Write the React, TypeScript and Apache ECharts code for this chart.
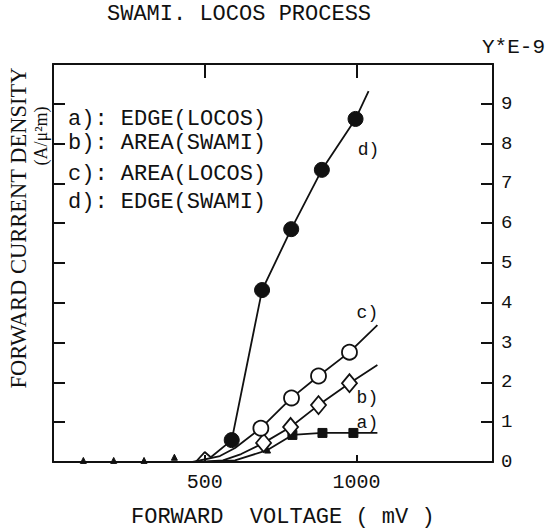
import React, { useEffect, useRef } from "react";
import * as echarts from "echarts";

const TITLE = "SWAMI. LOCOS PROCESS";
const X_NAME = "FORWARD  VOLTAGE ( mV )";
const Y_NAME = "FORWARD CURRENT DENSITY";
const Y_UNIT = "(A/\u03bc\u00b2m)";
const SCALE_NOTE = "Y*E-9";
const LEGEND_LINES = ["a): EDGE(LOCOS)", "b): AREA(SWAMI)", "c): AREA(LOCOS)", "d): EDGE(SWAMI)"];
const X_TICK_LABELS = [500, 1000];
const Y_TICK_LABELS = [0, 1, 2, 3, 4, 5, 6, 7, 8, 9];

// a) EDGE(LOCOS)
const aCurveV = [0, 500, 600, 707, 789, 888, 990, 1069];
const aCurveJ = [0, 0, 0.04, 0.3, 0.68, 0.73, 0.73, 0.73];
const aPointV = [789, 888, 990];
const aPointJ = [0.68, 0.73, 0.73];
// b) AREA(SWAMI)
const bCurveV = [0, 480, 560, 620, 694, 783, 875, 977, 1069];
const bCurveJ = [0, 0, 0.04, 0.2, 0.48, 0.88, 1.43, 1.98, 2.44];
const bPointV = [694, 783, 875, 977];
const bPointJ = [0.48, 0.88, 1.43, 1.98];
// c) AREA(LOCOS)
const cCurveV = [0, 460, 550, 600, 685, 786, 875, 977, 1069];
const cCurveJ = [0, 0, 0.15, 0.35, 0.85, 1.61, 2.16, 2.76, 3.44];
const cPointV = [685, 786, 875, 977];
const cPointJ = [0.85, 1.61, 2.16, 2.76];
// d) EDGE(SWAMI)
const dCurveV = [0, 470, 500, 520, 589, 689, 785, 886, 997, 1040];
const dCurveJ = [0, 0, 0.25, 0.12, 0.55, 4.32, 5.85, 7.34, 8.62, 9.32];
const dPointV = [589, 689, 785, 886, 997];
const dPointJ = [0.55, 4.32, 5.85, 7.34, 8.62];
// low-voltage points on the baseline
const lowV = [100, 200, 300, 400, 707];
const lowJ = [0.04, 0.04, 0.04, 0.12, 0.3];
// curve tags
const TAGS = ["a)", "b)", "c)", "d)"];
const tagV = [1036, 1036, 1036, 1040];
const tagJ = [0.98, 1.61, 3.74, 7.84];

const zip = (xs: number[], ys: number[]) => xs.map((x, i) => [x, ys[i]]);

const INK = "#111";
const MONO = "Liberation Mono";
const SERIF = "Liberation Serif";

export default function App() {
  const ref = useRef<HTMLDivElement>(null);
  useEffect(() => {
    if (!ref.current) return;
    const chart = echarts.init(ref.current, undefined, { renderer: "svg" });
    const lineStyle = { color: INK, width: 1.8 };
    const curve = (name: string, xs: number[], ys: number[]) => ({
      name,
      type: "line",
      data: zip(xs, ys),
      symbol: "none",
      lineStyle,
      z: 2,
    });
    const marks = (name: string, xs: number[], ys: number[], symbol: string, size: any, filled: boolean) => ({
      name,
      type: "scatter",
      data: zip(xs, ys),
      symbol,
      symbolSize: size,
      itemStyle: filled
        ? { color: INK, borderColor: INK, borderWidth: 1, opacity: 1 }
        : { color: "#fff", borderColor: INK, borderWidth: 1.8, opacity: 1 },
      z: 3,
    });
    const axisLine = { show: true, onZero: false, lineStyle: { color: INK, width: 2 } };
    const tickStyle = { color: INK, width: 2 };
    chart.setOption({
      animation: false,
      backgroundColor: "#fff",
      grid: { left: 53, top: 64, width: 440, height: 398 },
      xAxis: [
        {
          type: "value",
          position: "bottom",
          min: 0,
          max: 1450,
          interval: 500,
          axisLine,
          axisTick: { show: true, inside: true, length: 7, lineStyle: tickStyle },
          axisLabel: {
            formatter: (v: number) => (X_TICK_LABELS.includes(v) ? String(v) : ""),
            fontFamily: MONO,
            fontSize: 20,
            color: INK,
            margin: 10,
          },
          splitLine: { show: false },
        },
        {
          type: "value",
          position: "top",
          min: 0,
          max: 1450,
          interval: 500,
          axisLine,
          axisTick: { show: true, inside: true, length: 14, lineStyle: tickStyle },
          axisLabel: { show: false },
          splitLine: { show: false },
        },
      ],
      yAxis: [
        {
          type: "value",
          position: "right",
          min: 0,
          max: 10,
          interval: 1,
          axisLine,
          axisTick: { show: true, inside: true, length: 12, lineStyle: tickStyle },
          axisLabel: {
            formatter: (v: number) => (Y_TICK_LABELS.includes(v) ? String(v) : ""),
            fontFamily: MONO,
            fontSize: 19,
            color: INK,
            margin: 8,
          },
          splitLine: { show: false },
        },
        {
          type: "value",
          position: "left",
          min: 0,
          max: 10,
          interval: 1,
          axisLine,
          axisTick: { show: true, inside: true, length: 12, lineStyle: tickStyle },
          axisLabel: { show: false },
          splitLine: { show: false },
        },
      ],
      series: [
        curve("a", aCurveV, aCurveJ),
        curve("b", bCurveV, bCurveJ),
        curve("c", cCurveV, cCurveJ),
        curve("d", dCurveV, dCurveJ),
        marks("low", lowV, lowJ, "triangle", 6, true),
        marks("a pts", aPointV, aPointJ, "rect", 9, true),
        marks("b pts", bPointV, bPointJ, "diamond", [15, 18], false),
        marks("c pts", cPointV, cPointJ, "circle", 15, false),
        marks("d pts", dPointV, dPointJ, "circle", 15, true),
        {
          name: "tags",
          type: "scatter",
          data: tagV.map((v, i) => ({ value: [v, tagJ[i]], name: TAGS[i] })),
          symbolSize: 0,
          itemStyle: { color: INK, opacity: 1 },
          label: {
            show: true,
            position: "inside",
            formatter: (p: any) => p.name,
            fontFamily: MONO,
            fontSize: 18,
            color: INK,
            textBorderWidth: 0,
          },
          z: 4,
        },
      ],
      graphic: [
        {
          type: "text",
          left: 107,
          top: 3,
          style: { text: TITLE, fontFamily: MONO, fontSize: 22, fill: INK },
        },
        {
          type: "text",
          left: 482,
          top: 37,
          style: { text: SCALE_NOTE, fontFamily: MONO, fontSize: 21, fill: INK },
        },
        {
          type: "text",
          left: 131,
          top: 506,
          style: { text: X_NAME, fontFamily: MONO, fontSize: 22, fill: INK },
        },
        {
          type: "text",
          x: 18,
          y: 228,
          rotation: Math.PI / 2,
          style: {
            text: Y_NAME,
            fontFamily: SERIF,
            fontSize: 22.5,
            fill: INK,
            align: "center",
            verticalAlign: "middle",
          },
        },
        {
          type: "text",
          x: 41,
          y: 136,
          rotation: Math.PI / 2,
          style: {
            text: Y_UNIT,
            fontFamily: SERIF,
            fontSize: 18,
            fill: INK,
            align: "center",
            verticalAlign: "middle",
          },
        },
        ...LEGEND_LINES.map((t, i) => ({
          type: "text",
          left: 68,
          top: [108, 132, 163, 191][i],
          style: { text: t, fontFamily: MONO, fontSize: 22, fill: INK },
        })),
      ],
    });
    return () => chart.dispose();
  }, []);
  return (
    <div
      ref={ref}
      style={{ position: "fixed", left: 0, top: 0, width: 550, height: 528, background: "#fff" }}
    />
  );
}
